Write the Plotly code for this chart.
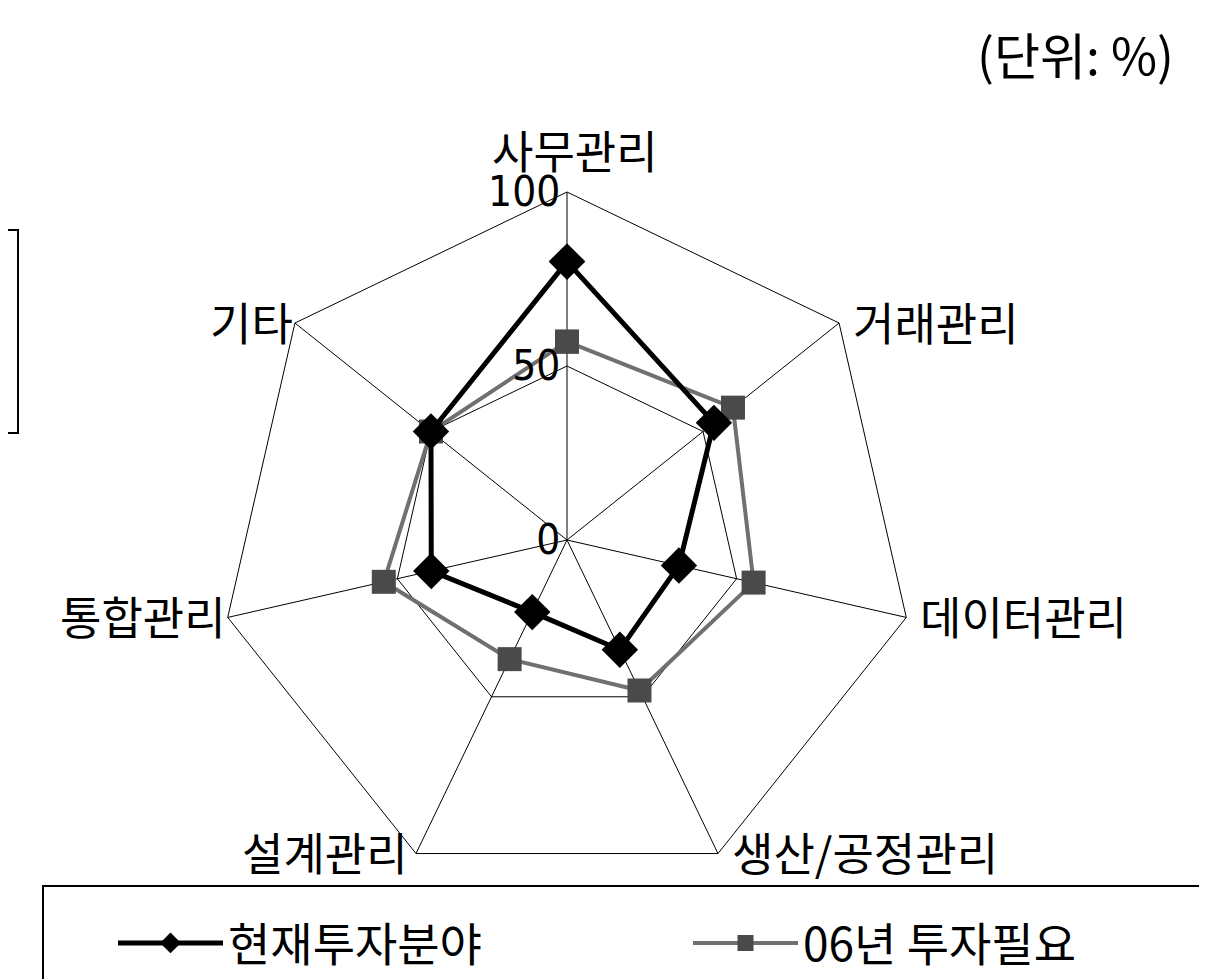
import math
import plotly.graph_objects as go

categories = ['사무관리', '거래관리', '데이터관리', '생산/공정관리', '설계관리', '통합관리', '기타']
current = [80, 54, 33, 35, 23, 40, 50]
needed_06 = [57, 61, 55, 48, 38, 54, 50]
radial_ticks = [0, 50, 100]

# close the polygons
cats = categories + categories[:1]

W, H = 1207, 979
cx, cy, R = 567, 540, 348
off = 8  # plotly draws the heptagon a bit right/down of the domain centre

fig = go.Figure()

fig.add_trace(go.Scatterpolar(
    r=needed_06 + needed_06[:1], theta=cats, name='06년 투자필요',
    mode='lines+markers', legend='legend2',
    line=dict(color='#707070', width=4),
    marker=dict(symbol='square', size=24, color='#4a4a4a'),
))

fig.add_trace(go.Scatterpolar(
    r=current + current[:1], theta=cats, name='현재투자분야',
    mode='lines+markers', legend='legend',
    line=dict(color='black', width=5),
    marker=dict(symbol='diamond', size=28, color='black'),
))

leg = dict(orientation='h', yanchor='middle', xanchor='left',
           bgcolor='rgba(0,0,0,0)', itemwidth=105,
           font=dict(size=46))

fig.update_layout(
    width=W, height=H,
    margin=dict(l=0, r=0, t=0, b=0),
    paper_bgcolor='white',
    font=dict(family='Noto Sans CJK KR', color='black', size=38),
    polar=dict(
        domain=dict(x=[(cx - off - R) / W, (cx - off + R) / W],
                    y=[(H - cy + off - R) / H, (H - cy + off + R) / H]),
        bgcolor='white',
        gridshape='linear',
        angularaxis=dict(direction='clockwise', rotation=90,
                         showline=True, linecolor='black', linewidth=1,
                         gridcolor='black', gridwidth=1, ticks='',
                         showticklabels=False),
        radialaxis=dict(range=[0, 100], tickvals=radial_ticks,
                        angle=90, side='counterclockwise', tickangle=90,
                        showline=False, ticks='',
                        gridcolor='black', gridwidth=1,
                        tickfont=dict(size=42, family='DejaVu Sans Condensed, Liberation Sans')),
    ),
    legend=dict(leg, x=105 / W, y=1 - 935 / H),
    legend2=dict(leg, x=680 / W, y=1 - 935 / H),
    showlegend=True,
)

# category labels beside each outer vertex, Excel style
n = len(categories)
for i, name in enumerate(categories):
    a = 2 * math.pi * i / n
    s, c = math.sin(a), math.cos(a)
    px = cx + R * s
    py = cy - R * c
    if abs(s) < 0.01:
        xa, ya, dx, dy = 'center', 'bottom', 0, 16
    elif s > 0:
        xa, ya, dx, dy = 'left', 'middle', 4, 10
    else:
        xa, ya, dx, dy = 'right', 'middle', -8 if c > -0.5 else -14, 10
    fig.add_annotation(text=name, x=(px + dx) / W, y=1 - (py - dy) / H,
                       xref='paper', yref='paper', showarrow=False,
                       xanchor=xa, yanchor=ya, font=dict(size=45))

fig.add_annotation(text='(단위: %)', x=1168 / W, y=1 - 45 / H, xref='paper', yref='paper',
                   showarrow=False, xanchor='right', yanchor='middle',
                   font=dict(size=50))

# legend frame and left-edge bracket
fig.add_shape(type='rect', xref='paper', yref='paper',
              x0=35 / W, x1=1200 / W, y0=-0.01, y1=1 - 878 / H,
              line=dict(color='black', width=2))
fig.add_shape(type='path', xref='paper', yref='paper',
              path=f'M 0 {1 - 222 / H} L {10 / W} {1 - 222 / H} L {10 / W} {1 - 425 / H} L 0 {1 - 425 / H}',
              line=dict(color='black', width=2))

fig.write_html('out.html')
